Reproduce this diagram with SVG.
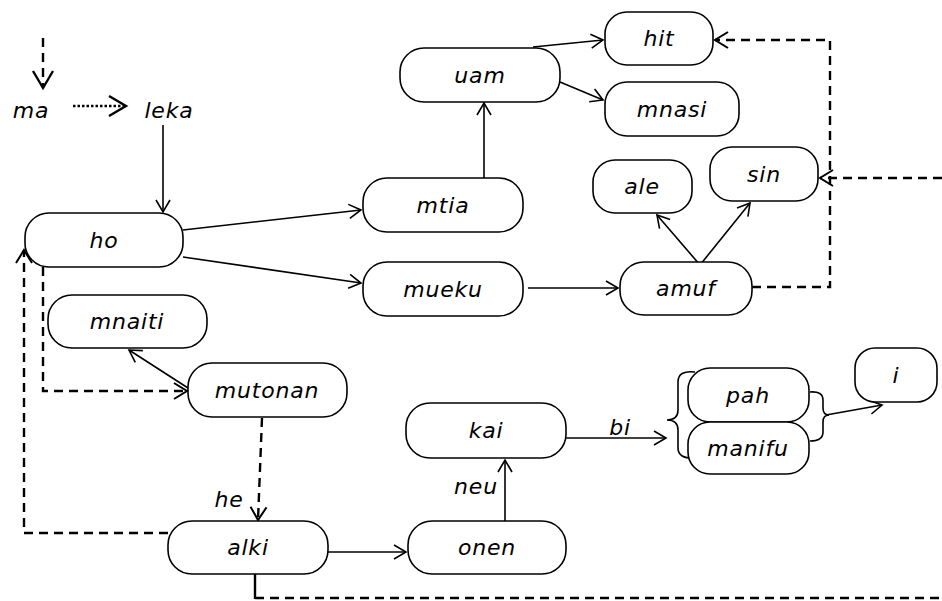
<svg xmlns="http://www.w3.org/2000/svg" width="942" height="601" viewBox="0 0 942 601">
<defs>
<style>
.n rect{fill:#fff;stroke:#000;stroke-width:1.6}
text{font-family:"DejaVu Sans",sans-serif;font-style:italic;font-size:22px;letter-spacing:0.8px;fill:#000;text-anchor:middle}
.s{fill:none;stroke:#000;stroke-width:1.6}
.d{fill:none;stroke:#000;stroke-width:2.4;stroke-dasharray:9 6}
.o{fill:none;stroke:#000;stroke-width:2.4;stroke-dasharray:2.5 2}
</style>
<marker id="a" markerWidth="15" markerHeight="16" refX="13" refY="8" orient="auto" markerUnits="userSpaceOnUse">
<path d="M1,1 L13,8 L1,15" fill="none" stroke="#000" stroke-width="1.6"/>
</marker>
<marker id="c" markerWidth="17" markerHeight="20" refX="15" refY="10" orient="auto" markerUnits="userSpaceOnUse">
<path d="M2,2 L15,10 L2,18" fill="none" stroke="#000" stroke-width="2"/>
</marker>
<marker id="b" markerWidth="22" markerHeight="24" refX="19" refY="12" orient="auto" markerUnits="userSpaceOnUse">
<path d="M2,2 L19,12 L2,22" fill="none" stroke="#000" stroke-width="2.4"/>
</marker>
</defs>
<g id="connectors">
<line class="d" x1="43" y1="38" x2="43" y2="88" marker-end="url(#b)"/>
<line class="o" x1="73" y1="106" x2="126" y2="106" marker-end="url(#b)"/>
<line class="s" x1="163" y1="125" x2="163" y2="212" marker-end="url(#a)"/>
<line class="s" x1="183" y1="230" x2="361" y2="210" marker-end="url(#a)"/>
<line class="s" x1="183" y1="257" x2="361" y2="283" marker-end="url(#a)"/>
<line class="s" x1="484" y1="178" x2="484" y2="103" marker-end="url(#a)"/>
<line class="s" x1="533" y1="47" x2="603" y2="40" marker-end="url(#a)"/>
<line class="s" x1="560" y1="82" x2="603" y2="100" marker-end="url(#a)"/>
<line class="s" x1="528" y1="288" x2="618" y2="288" marker-end="url(#a)"/>
<line class="s" x1="700" y1="265" x2="657" y2="215" marker-end="url(#a)"/>
<line class="s" x1="700" y1="265" x2="750" y2="203" marker-end="url(#a)"/>
<path class="d" d="M752,287 H830 V40 H715" marker-end="url(#c)"/>
<path class="d" d="M942,178 H820" marker-end="url(#c)"/>
<path class="d" d="M43,267 V391 H187" marker-end="url(#c)"/>
<line class="s" x1="188" y1="388" x2="129" y2="350" marker-end="url(#a)"/>
<line class="d" x1="262" y1="418" x2="258" y2="520" marker-end="url(#c)"/>
<path class="d" d="M168,533 H24 V250" marker-end="url(#c)"/>
<line class="s" x1="328" y1="552" x2="406" y2="552" marker-end="url(#a)"/>
<line class="s" x1="505" y1="521" x2="505" y2="460" marker-end="url(#a)"/>
<line class="s" x1="566" y1="438" x2="666" y2="438" marker-end="url(#a)"/>
<line class="s" x1="826" y1="415" x2="882" y2="405" marker-end="url(#a)"/>
<line x1="255" y1="574" x2="255" y2="599" stroke="#000" stroke-width="2.4"/>
<path class="d" d="M255,598 H942"/>
<path class="s" d="M695,372 Q678,370 678,382 L678,410 Q678,420 667,420 Q678,420 678,430 L678,448 Q678,459 695,458"/>
<path class="s" d="M810,392 Q823,391 823,400 L823,408 Q823,415 829,415 Q823,415 823,422 L823,432 Q823,441 810,441"/>
<text x="620" y="435">bi</text>
<text x="476" y="494">neu</text>
<text x="229" y="507">he</text>
</g>
<g id="ma"><text x="31" y="118">ma</text></g>
<g id="leka"><text x="169" y="118">leka</text></g>
<g id="hit" class="n"><rect x="605" y="12" width="108" height="53" rx="22"/><text x="659" y="46">hit</text></g>
<g id="uam" class="n"><rect x="400" y="48" width="160" height="54" rx="24"/><text x="480" y="83">uam</text></g>
<g id="mnasi" class="n"><rect x="605" y="82" width="134" height="54" rx="22"/><text x="672" y="117">mnasi</text></g>
<g id="sin" class="n"><rect x="710" y="147" width="108" height="54" rx="22"/><text x="764" y="182">sin</text></g>
<g id="ale" class="n"><rect x="593" y="160" width="99" height="53" rx="22"/><text x="642" y="194">ale</text></g>
<g id="mtia" class="n"><rect x="363" y="178" width="160" height="54" rx="24"/><text x="443" y="213">mtia</text></g>
<g id="ho" class="n"><rect x="25" y="213" width="158" height="54" rx="24"/><text x="104" y="248">ho</text></g>
<g id="mueku" class="n"><rect x="363" y="262" width="160" height="54" rx="24"/><text x="443" y="297">mueku</text></g>
<g id="amuf" class="n"><rect x="620" y="262" width="132" height="53" rx="24"/><text x="686" y="296">amuf</text></g>
<g id="mnaiti" class="n"><rect x="48" y="295" width="159" height="53" rx="24"/><text x="127" y="329">mnaiti</text></g>
<g id="mutonan" class="n"><rect x="188" y="363" width="159" height="54" rx="24"/><text x="267" y="398">mutonan</text></g>
<g id="pah" class="n"><rect x="688" y="368" width="121" height="54" rx="22"/><text x="748" y="403">pah</text></g>
<g id="manifu" class="n"><rect x="688" y="422" width="121" height="52" rx="22"/><text x="748" y="456">manifu</text></g>
<g id="i" class="n"><rect x="855" y="348" width="82" height="54" rx="20"/><text x="896" y="383">i</text></g>
<g id="kai" class="n"><rect x="406" y="403" width="160" height="55" rx="24"/><text x="486" y="438">kai</text></g>
<g id="alki" class="n"><rect x="168" y="521" width="160" height="53" rx="24"/><text x="248" y="555">alki</text></g>
<g id="onen" class="n"><rect x="408" y="521" width="158" height="53" rx="24"/><text x="487" y="555">onen</text></g>
</svg>
